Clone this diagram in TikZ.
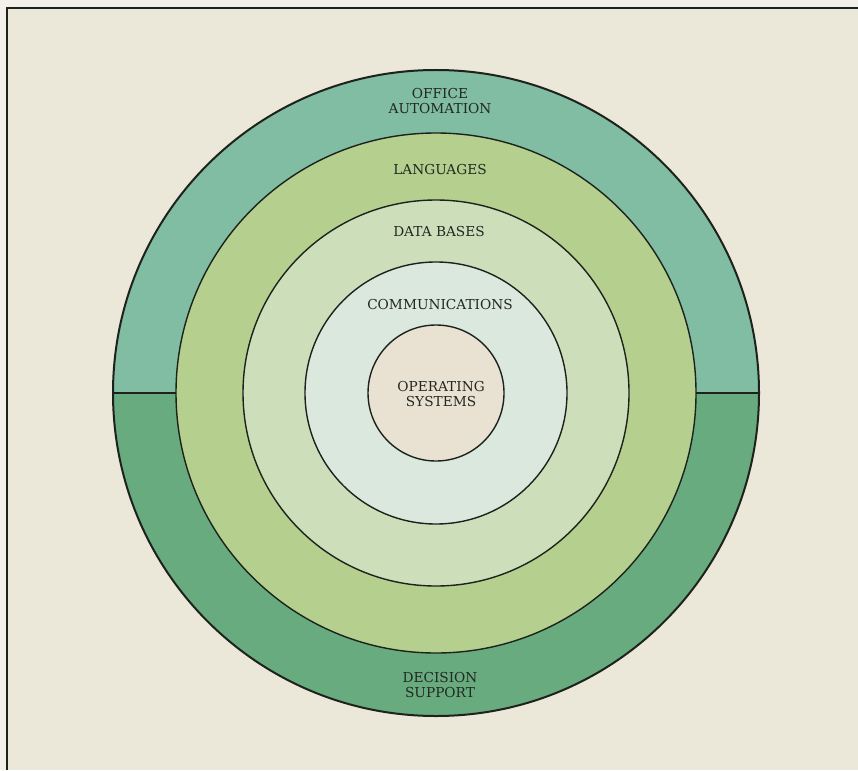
\documentclass[tikz,border=0pt]{standalone}
\usepackage{fontspec}
\setmainfont{DejaVu Serif}
\usepackage{tikz}
\usetikzlibrary{positioning}
\definecolor{paper}{RGB}{235,231,217}
\definecolor{paperedge}{RGB}{242,240,232}
\definecolor{inkline}{RGB}{30,34,28}
\definecolor{inktext}{RGB}{35,40,35}
\definecolor{officetone}{RGB}{128,189,162}
\definecolor{decisiontone}{RGB}{104,171,127}
\definecolor{langtone}{RGB}{180,207,142}
\definecolor{datatone}{RGB}{204,222,186}
\definecolor{commtone}{RGB}{219,232,222}
\definecolor{coretone}{RGB}{233,226,210}
\tikzset{
	ringline/.style={draw=inkline, line width=1.4pt}
}
\tikzset{
	ringtext/.style={font=\fontsize{13.7}{15.5}\selectfont, text=inktext, align=center, inner sep=0pt}
}

\begin{document}
\begin{tikzpicture}[x=1pt, y=-1pt]
  \useasboundingbox (0,0) rectangle (858,770);
  \fill[paperedge] (0,0) rectangle (858,770);
  \fill[paper] (7,8) rectangle (858,770);
  \draw[inkline, line width=2.4pt] (7,770) -- (7,8) -- (858,8);
  \coordinate (c) at (436,393);
  % outer ring, two halves
  \fill[decisiontone] (c) circle[radius=323pt];
  \fill[officetone] ([xshift=-323pt]c) arc[start angle=180, end angle=0, radius=323pt] -- cycle;
  \draw[ringline, line width=2pt] (c) circle[radius=323pt];
  \foreach \r/\col in {260/langtone, 193/datatone, 131/commtone, 68/coretone}
    \draw[ringline, fill=\col] (c) circle[radius=\r pt];
  \draw[ringline] ([xshift=-323pt]c) -- ([xshift=-260pt]c);
  \draw[ringline] ([xshift=260pt]c) -- ([xshift=323pt]c);
  % labels
  \node[ringtext] (office) at (440,101) {OFFICE\\AUTOMATION};
  \node[ringtext] (lang) at (440,170) {LANGUAGES};
  \node[ringtext] (data) at (439,232) {DATA BASES};
  \node[ringtext] (comm) at (440,305) {COMMUNICATIONS};
  \node[ringtext] (core) at (441,394) {OPERATING\\SYSTEMS};
  \node[ringtext] (decision) at (440,685) {DECISION\\SUPPORT};
\end{tikzpicture}
\end{document}
